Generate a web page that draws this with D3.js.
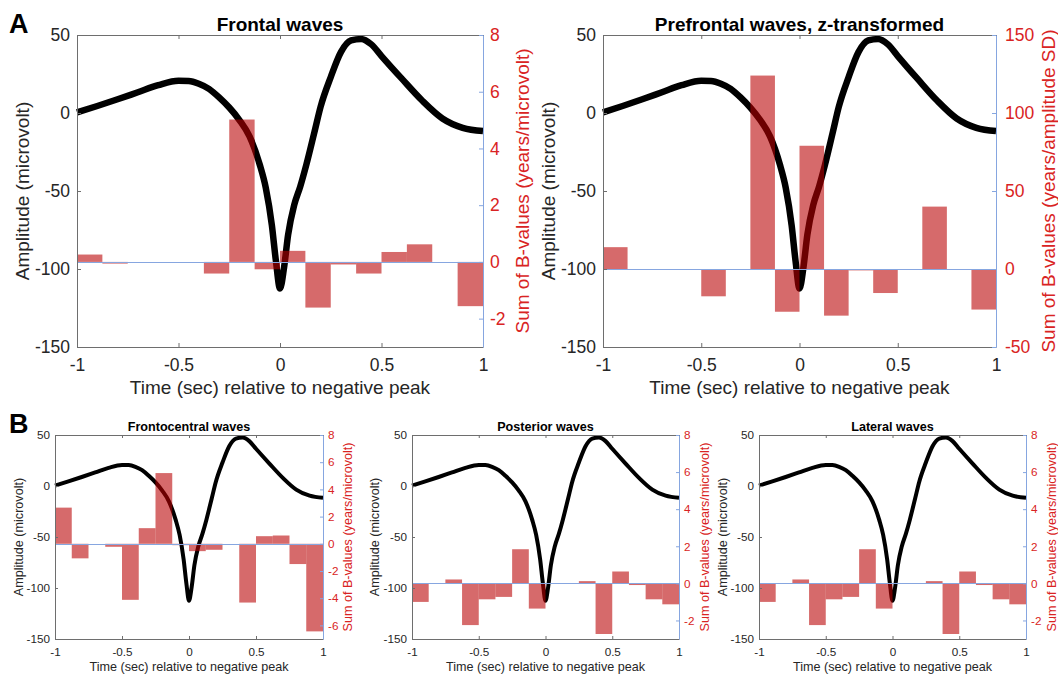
<!DOCTYPE html>
<html><head><meta charset="utf-8">
<script src="https://cdn.jsdelivr.net/npm/d3@7"></script>
<style>
body{margin:0;background:#fff;}
svg{display:block;font-family:"Liberation Sans",Arial,Helvetica,sans-serif;}
</style>
</head><body>
<svg id="fig" width="1058" height="675"></svg>
<script>
// ---------- data ----------
const binStarts = [-1,-0.875,-0.75,-0.625,-0.5,-0.375,-0.25,-0.125,0,0.125,0.25,0.375,0.5,0.625,0.75,0.875];
const binWidth = 0.125;

const waveTime = [-1,-0.9,-0.8,-0.7,-0.6,-0.5,-0.45,-0.4,-0.35,-0.3,-0.25,-0.2,-0.15,-0.1,-0.07,-0.04,-0.02,0,0.02,0.04,0.07,0.1,0.13,0.17,0.2,0.25,0.3,0.35,0.4,0.45,0.5,0.6,0.7,0.8,0.9,1];
const waveAmp  = [0.4,4.5,8.8,13.3,17.8,20.6,20.5,18.8,15.5,10,3.5,-4.5,-15,-33,-48,-72,-95,-112.5,-99,-78,-59,-47,-33,-12,4,23,39,46.5,47.5,44,36.5,22,8,-3.5,-9.5,-11.6];

const frontalB       = [0.26,-0.06,0,0,0,-0.41,5.02,-0.26,0.39,-1.61,-0.09,-0.41,0.35,0.62,0,-1.56];
const prefrontalZB   = [14,0,0,0,-17.5,0,124,-27.4,79,-29.9,-0.9,-15.4,0,40,0,-26];
const frontocentralB = [2.66,-1.07,0,-0.22,-4.12,1.15,5.2,-0.1,-0.54,-0.44,0,-4.32,0.56,0.61,-1.49,-6.44];
const posteriorB     = [-1.0,0,0.21,-2.25,-0.86,-0.73,1.84,-1.36,0,0,0.12,-2.73,0.64,-0.09,-0.86,-1.13];
const lateralB       = [-1.0,0,0.21,-2.25,-0.86,-0.73,1.84,-1.36,0,0,0.12,-2.73,0.64,-0.09,-0.86,-1.13];

const timeTicks = [-1,-0.5,0,0.5,1];
const ampTicks  = [-150,-100,-50,0,50];
const microTicks = [-2,0,2,4,6,8];
const sdTicks    = [-50,0,50,100,150];
const fcTicks    = [-6,-4,-2,0,2,4,6,8];

// ---------- style ----------
const axisGrey = "#6e6e6e";
const textDark = "#262626";
const red = "#d92323";
const blue = "#86a6e0";
const barFill = "rgb(185,0,2)";
const barOpacity = 0.584;

const svg = d3.select("#fig");

function panel(p) {
  const g = svg.append("g");
  const x = d3.scaleLinear().domain([-1,1]).range([p.x0,p.x1]);
  const yL = d3.scaleLinear().domain([-150,50]).range([p.y1,p.y0]);
  const yR = d3.scaleLinear().domain(p.rDomain).range([p.y1,p.y0]);

  // waveform
  const line = d3.line()
    .x((d,i)=>x(waveTime[i])).y(d=>yL(d))
    .curve(d3.curveMonotoneX);
  g.append("path").datum(waveAmp).attr("d",line)
    .attr("fill","none").attr("stroke","#000")
    .attr("stroke-width",p.lw).attr("stroke-linejoin","round");

  // bars
  g.selectAll("rect.bar").data(p.bars).join("rect").attr("class","bar")
    .attr("x",(d,i)=>x(binStarts[i]))
    .attr("width",(d,i)=>x(binStarts[i]+binWidth)-x(binStarts[i]))
    .attr("y",d=>yR(Math.max(0,d)))
    .attr("height",d=>Math.abs(yR(d)-yR(0)))
    .attr("fill",barFill).attr("fill-opacity",barOpacity);

  // zero line of right axis
  g.append("line").attr("x1",p.x0).attr("x2",p.x1)
    .attr("y1",Math.round(yR(0))+0.5).attr("y2",Math.round(yR(0))+0.5)
    .attr("stroke",blue).attr("stroke-width",1);

  const tl = p.tickLen;
  // top axis
  const top = g.append("g").attr("transform",`translate(0,${p.y0})`)
    .call(d3.axisTop(x).tickValues(timeTicks).tickSize(-tl).tickSizeOuter(0).tickFormat(""));
  // bottom axis
  const bot = g.append("g").attr("transform",`translate(0,${p.y1})`)
    .call(d3.axisBottom(x).tickValues(timeTicks).tickSize(-tl).tickSizeOuter(0).tickFormat(d=>String(d)));
  bot.selectAll("text").attr("y",p.xtickDy).attr("dy",null);
  // left axis
  const left = g.append("g").attr("transform",`translate(${p.x0},0)`)
    .call(d3.axisLeft(yL).tickValues(ampTicks).tickSize(-tl).tickSizeOuter(0).tickPadding(p.padL).tickFormat(d=>String(d)));
  // right axis
  const right = g.append("g").attr("transform",`translate(${p.x1},0)`)
    .call(d3.axisRight(yR).tickValues(p.rTicks).tickSize(-tl).tickSizeOuter(0).tickPadding(p.padR).tickFormat(d=>String(d)));

  [top,bot,left].forEach(a=>{
    a.select(".domain").attr("stroke",axisGrey);
    a.selectAll(".tick line").attr("stroke",axisGrey);
    a.selectAll("text").attr("fill",textDark).attr("font-size",p.fsTick).attr("font-family",null);
    a.attr("font-family",null).attr("font-size",null);
  });
  right.select(".domain").attr("stroke",blue);
  right.selectAll(".tick line").attr("stroke",blue);
  right.selectAll("text").attr("fill",red).attr("font-size",p.fsTick);
  right.attr("font-family",null).attr("font-size",null);

  // title
  g.append("text").attr("x",(p.x0+p.x1)/2).attr("y",p.titleY)
    .attr("text-anchor","middle").attr("font-weight","bold")
    .attr("font-size",p.fsTitle).attr("fill","#000").text(p.title);
  // x label
  g.append("text").attr("x",(p.x0+p.x1)/2).attr("y",p.xlabelY)
    .attr("text-anchor","middle").attr("font-size",p.fsLabel)
    .attr("fill",textDark).text("Time (sec) relative to negative peak");
  // y labels
  const cy = (p.y0+p.y1)/2;
  g.append("text").attr("transform",`translate(${p.ylabLX},${cy}) rotate(-90)`)
    .attr("text-anchor","middle").attr("dy","0.35em").attr("font-size",p.fsLabel)
    .attr("fill",textDark).text("Amplitude (microvolt)");
  g.append("text").attr("transform",`translate(${p.ylabRX},${cy}) rotate(-90)`)
    .attr("text-anchor","middle").attr("dy","0.35em").attr("font-size",p.fsLabel)
    .attr("fill",red).text(p.ylabelR);
}

const A = {y0:35,y1:347,lw:6.5,tickLen:4,fsTick:17.5,fsLabel:19,fsTitle:19,
  xtickDy:24,titleY:31,xlabelY:394,padL:7,padR:7};
const B = {y0:435,y1:639,lw:4,tickLen:3,fsTick:11.7,fsLabel:12.6,fsTitle:12.6,
  xtickDy:17,titleY:431,xlabelY:671,padL:5,padR:5};

panel(Object.assign({},A,{x0:77,x1:483,bars:frontalB,rDomain:[-3,8],rTicks:microTicks,
  title:"Frontal waves",ylabelR:"Sum of B-values (years/microvolt)",ylabLX:22,ylabRX:522}));
panel(Object.assign({},A,{x0:603,x1:996,bars:prefrontalZB,rDomain:[-50,150],rTicks:sdTicks,padR:9,
  title:"Prefrontal waves, z-transformed",ylabelR:"Sum of B-values (years/amplitude SD)",ylabLX:548,ylabRX:1048}));
panel(Object.assign({},B,{x0:55,x1:323,bars:frontocentralB,rDomain:[-7,8],rTicks:fcTicks,
  title:"Frontocentral waves",ylabelR:"Sum of B-values (years/microvolt)",ylabLX:19,ylabRX:348}));
panel(Object.assign({},B,{x0:412,x1:679,bars:posteriorB,rDomain:[-3,8],rTicks:microTicks,
  title:"Posterior waves",ylabelR:"Sum of B-values (years/microvolt)",ylabLX:375,ylabRX:705}));
panel(Object.assign({},B,{x0:759,x1:1026,bars:lateralB,rDomain:[-3,8],rTicks:microTicks,
  title:"Lateral waves",ylabelR:"Sum of B-values (years/microvolt)",ylabLX:723,ylabRX:1052}));

// panel letters
svg.append("text").attr("x",9).attr("y",33).attr("font-size",27).attr("font-weight","bold").text("A");
svg.append("text").attr("x",9).attr("y",433).attr("font-size",27).attr("font-weight","bold").text("B");
</script>
</body></html>
